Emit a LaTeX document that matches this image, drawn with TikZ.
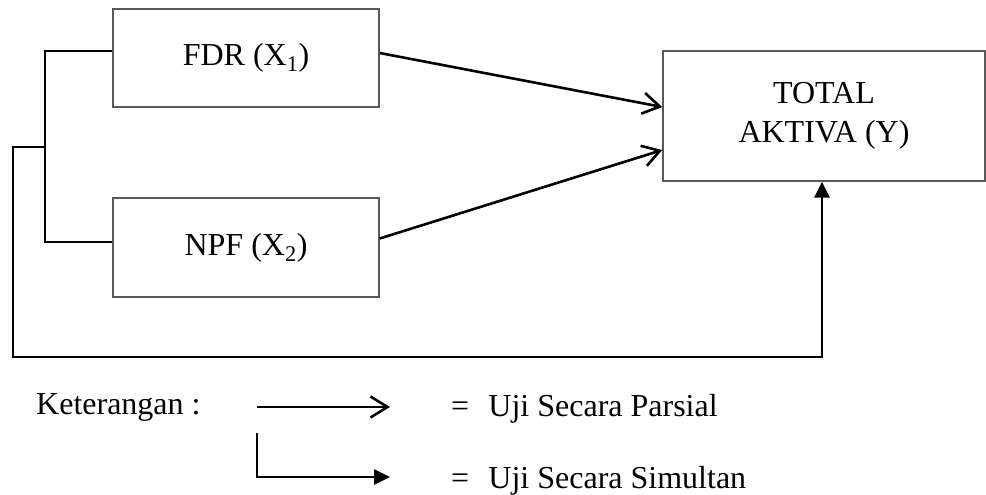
\documentclass[tikz,border=0pt]{standalone}
\usepackage{fontspec}
\setmainfont{Liberation Serif}
\usetikzlibrary{arrows.meta}
\begin{document}
\begin{tikzpicture}[x=1pt,y=-1pt,
  font=\fontsize{32}{39}\selectfont,
  boxstyle/.style={draw=black!65, line width=1.4pt, inner sep=0pt, align=center},
  conn/.style={draw=black, line width=2.6pt},
  openarrow/.style={conn, -{Straight Barb[length=17pt,width=21pt,line width=2.6pt]}},
  fillarrow/.style={conn, -{Triangle[length=16pt,width=15pt]}}]
\useasboundingbox (0,0) rectangle (986,495);
% boxes
\node[boxstyle, minimum width=266pt, minimum height=98pt] (fdr) at (246,58) {FDR (X\textsubscript{1})};
\node[boxstyle, minimum width=266pt, minimum height=99pt] (npf) at (246,247.5) {NPF (X\textsubscript{2})};
\node[boxstyle, minimum width=322pt, minimum height=130pt] (ta) at (824,116) {TOTAL\\AKTIVA (Y)};
% partial arrows
\draw[openarrow] ([yshift=5pt]fdr.east) -- ([yshift=9pt]ta.west);
\draw[openarrow] ([yshift=9pt]npf.east) -- ([yshift=-34pt]ta.west);
% bracket
\coordinate (bt) at (45,51);
\coordinate (bb) at (45,242);
\coordinate (om) at (45,147);
\coordinate (oc) at (13,357);
\draw[conn] (fdr.west |- bt) -- (bt) -- (bb) -- (npf.west |- bb);
\draw[fillarrow] (om) -| (oc) -| ([xshift=-2pt]ta.south);
% legend
\node[anchor=base west, inner sep=0pt] (ket) at (36,414) {Keterangan :};
\coordinate (l1s) at (257,407);
\coordinate (l1e) at (390,407);
\draw[openarrow] (l1s) -- (l1e);
\coordinate (l2s) at (257,433);
\coordinate (l2c) at (257,477);
\coordinate (l2e) at (390,477);
\draw[fillarrow] (l2s) -- (l2c) -- (l2e);
\node[anchor=base west, inner sep=0pt] (parsial) at (451,416) {=\hspace{0.6em}Uji Secara Parsial};
\node[anchor=base west, inner sep=0pt] (simultan) at (451,488) {=\hspace{0.6em}Uji Secara Simultan};
\end{tikzpicture}
\end{document}
